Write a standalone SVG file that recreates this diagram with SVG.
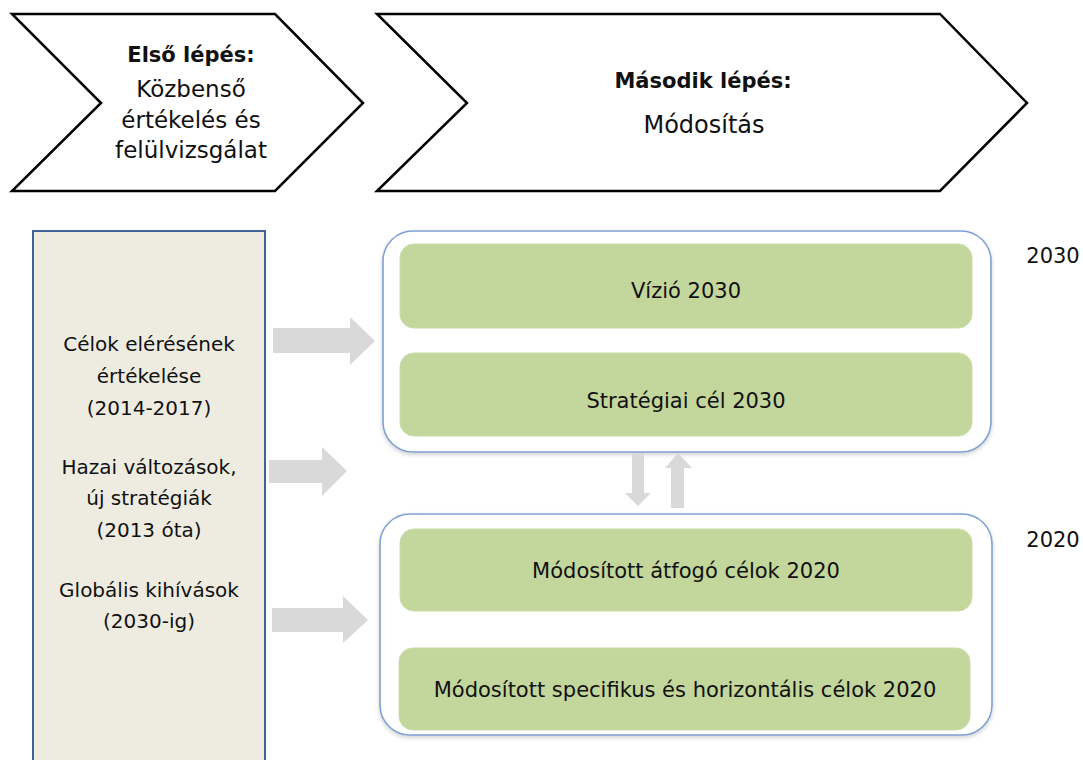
<svg xmlns="http://www.w3.org/2000/svg" width="1083" height="760" viewBox="0 0 1083 760">
  <style>
    .chev { fill: #ffffff; stroke: #000000; stroke-width: 2.5; stroke-linejoin: miter; }
    .t { font-family: "DejaVu Sans", "Liberation Sans", sans-serif; fill: #111111; text-anchor: middle; }
    .b { font-weight: bold; }
    .left { fill: #EEECE1; stroke: #3F6395; stroke-width: 2; }
    .cont { fill: #ffffff; stroke: #7FA0D2; stroke-width: 1.6; }
    .green { fill: #C3D69B; stroke: #CADCA6; stroke-width: 1; }
    .garrow { fill: #D9D9D9; stroke: none; }
  </style>
  <defs>
    <filter id="sh" x="-5%" y="-5%" width="110%" height="115%">
      <feDropShadow dx="0" dy="2" stdDeviation="2" flood-color="#000000" flood-opacity="0.18"/>
    </filter>
  </defs>
  <rect x="0" y="0" width="1083" height="760" fill="#ffffff"/>

  <g id="step1">
    <polygon class="chev" points="12,14 275,14 363,103 275,191 12,191 101,103"/>
    <text class="t b" x="191" y="62" font-size="21">Első lépés:</text>
    <text class="t" x="191" y="97" font-size="23">Közbenső</text>
    <text class="t" x="191" y="128" font-size="23">értékelés és</text>
    <text class="t" x="191" y="158" font-size="23">felülvizsgálat</text>
  </g>

  <g id="step2">
    <polygon class="chev" points="377,14 940,14 1027,103 940,191 377,191 467,103"/>
    <text class="t b" x="703" y="88" font-size="21">Második lépés:</text>
    <text class="t" x="704" y="133" font-size="24">Módosítás</text>
  </g>

  <g id="inputs">
    <rect class="left" x="33" y="231" width="232" height="545"/>
    <text class="t" x="149" y="351" font-size="20">Célok elérésének</text>
    <text class="t" x="149" y="383" font-size="20">értékelése</text>
    <text class="t" x="149" y="415" font-size="20">(2014-2017)</text>
    <text class="t" x="149" y="474" font-size="20">Hazai változások,</text>
    <text class="t" x="149" y="505" font-size="20">új stratégiák</text>
    <text class="t" x="149" y="537" font-size="20">(2013 óta)</text>
    <text class="t" x="149" y="597" font-size="20">Globális kihívások</text>
    <text class="t" x="149" y="628" font-size="20">(2030-ig)</text>
  </g>

  <g id="group2030">
    <rect class="cont" x="383" y="231" width="608" height="221" rx="30" ry="30" filter="url(#sh)"/>
    <text class="t" x="1053" y="263" font-size="21">2030</text>
  </g>
  <g id="vizio">
    <rect class="green" x="400" y="244" width="572" height="84" rx="14" ry="14"/>
    <text class="t" x="686" y="298" font-size="21">Vízió 2030</text>
  </g>
  <g id="strategiai">
    <rect class="green" x="400" y="353" width="572" height="83" rx="14" ry="14"/>
    <text class="t" x="686" y="408" font-size="21">Stratégiai cél 2030</text>
  </g>

  <g id="group2020">
    <rect class="cont" x="380" y="514" width="612" height="221" rx="30" ry="30" filter="url(#sh)"/>
    <text class="t" x="1053" y="547" font-size="21">2020</text>
  </g>
  <g id="atfogo">
    <rect class="green" x="400" y="529" width="572" height="82" rx="14" ry="14"/>
    <text class="t" x="686" y="578" font-size="21">Módosított átfogó célok 2020</text>
  </g>
  <g id="specifikus">
    <rect class="green" x="399" y="648" width="571" height="82" rx="14" ry="14"/>
    <text class="t" x="685" y="697" font-size="21">Módosított specifikus és horizontális célok 2020</text>
  </g>

  <g id="connectors">
    <polygon class="garrow" points="273,328 350,328 350,317 375,341 350,365 350,353 273,353"/>
    <polygon class="garrow" points="269,460 322,460 322,447 347,471 322,496 322,483 269,483"/>
    <polygon class="garrow" points="272,608 343,608 343,596 368,620 343,643 343,632 272,632"/>
    <polygon class="garrow" points="632,453 644,453 644,493 651,493 638,506 625,493 632,493"/>
    <polygon class="garrow" points="671,508 684,508 684,468 692,468 678,453 665,468 671,468"/>
  </g>
</svg>
